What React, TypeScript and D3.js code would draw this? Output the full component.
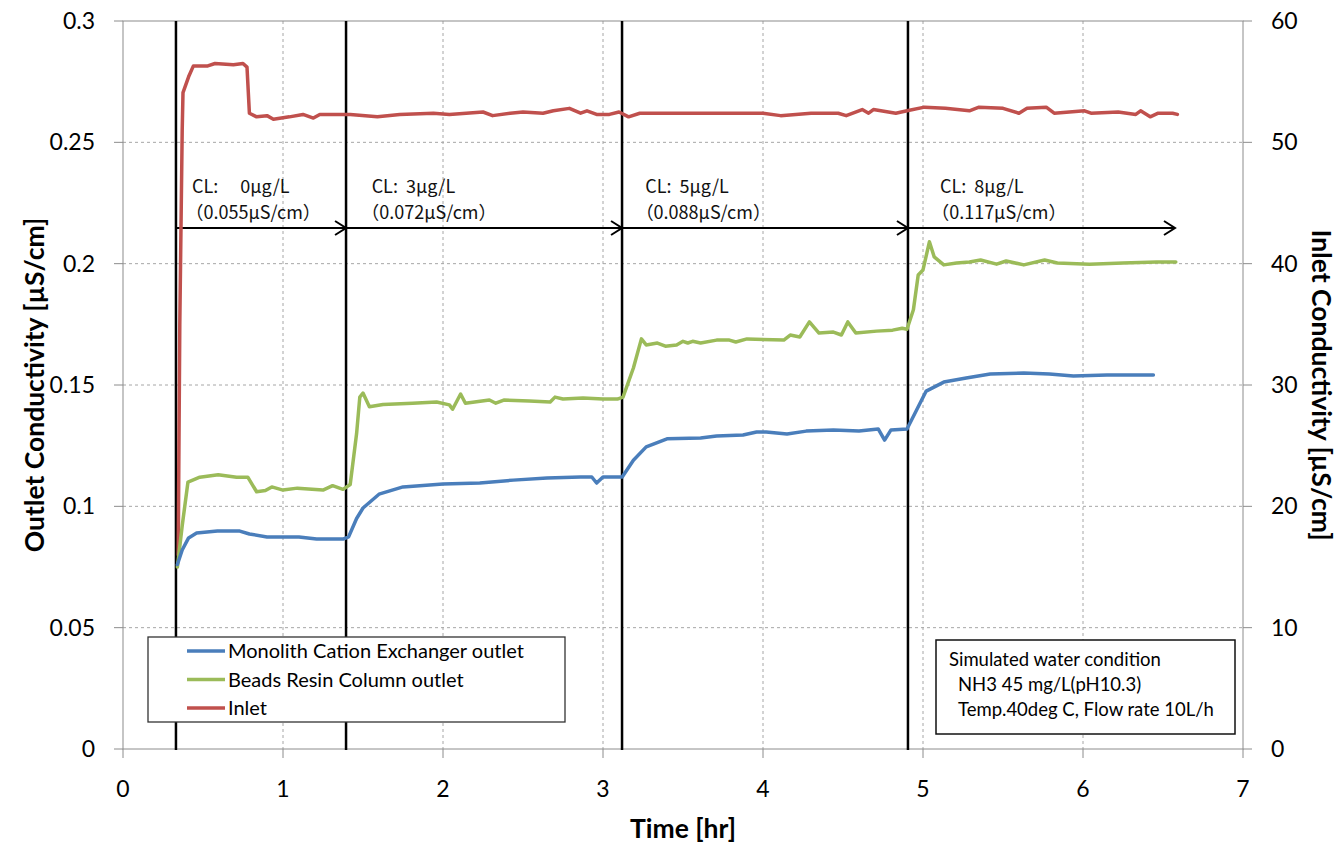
import React from "react";
import * as d3 from "d3";

// time [hr], outlet conductivity [uS/cm]
const monolithOutlet: [number, number][] = [
  [0.34, 0.076], [0.37, 0.082], [0.41, 0.087], [0.46, 0.089], [0.59, 0.0898], [0.73, 0.0898],
  [0.79, 0.0886], [0.9, 0.0874], [1.1, 0.0874], [1.21, 0.0865], [1.375, 0.0865], [1.41, 0.0874],
  [1.46, 0.095], [1.5, 0.0993], [1.6, 0.105], [1.75, 0.108], [2.0, 0.1092], [2.23, 0.1096],
  [2.44, 0.1108], [2.65, 0.1117], [2.86, 0.1121], [2.93, 0.1121], [2.96, 0.1096], [3.0, 0.1121],
  [3.12, 0.1121], [3.19, 0.119], [3.27, 0.1245], [3.4, 0.1278], [3.61, 0.1282], [3.71, 0.129],
  [3.875, 0.1294], [3.96, 0.1306], [4.02, 0.1306], [4.15, 0.1298], [4.27, 0.131], [4.44, 0.1315],
  [4.6, 0.131], [4.72, 0.1319], [4.76, 0.1273], [4.8, 0.1315], [4.9, 0.1319], [4.96, 0.1397],
  [5.02, 0.1475], [5.13, 0.1512], [5.27, 0.1529], [5.42, 0.1545], [5.63, 0.1549], [5.79, 0.1545],
  [5.94, 0.1537], [6.15, 0.1541], [6.44, 0.1541],
];

const beadsOutlet: [number, number][] = [
  [0.34, 0.075], [0.37, 0.092], [0.406, 0.11], [0.48, 0.112], [0.595, 0.113], [0.71, 0.112],
  [0.78, 0.112], [0.835, 0.106], [0.89, 0.1065], [0.93, 0.108], [1.0, 0.1067], [1.09, 0.1075],
  [1.25, 0.1067], [1.31, 0.1085], [1.375, 0.107], [1.42, 0.109], [1.46, 0.13], [1.48, 0.145],
  [1.5, 0.1467], [1.54, 0.141], [1.625, 0.142], [1.81, 0.1425], [1.96, 0.143], [2.04, 0.1418],
  [2.06, 0.14], [2.11, 0.1463], [2.14, 0.1425], [2.29, 0.1438], [2.33, 0.1425], [2.38, 0.1438],
  [2.54, 0.1434], [2.67, 0.143], [2.7, 0.145], [2.75, 0.1442], [2.875, 0.1446], [3.0, 0.1442],
  [3.09, 0.1442], [3.125, 0.145], [3.19, 0.157], [3.24, 0.169], [3.27, 0.1665], [3.34, 0.1673],
  [3.39, 0.166], [3.46, 0.1665], [3.5, 0.168], [3.53, 0.1673], [3.56, 0.168], [3.61, 0.1673],
  [3.71, 0.1685], [3.79, 0.1685], [3.83, 0.1677], [3.9, 0.169], [4.13, 0.1685], [4.17, 0.1706],
  [4.23, 0.1698], [4.29, 0.176], [4.35, 0.1714], [4.44, 0.1718], [4.49, 0.1706], [4.53, 0.176],
  [4.58, 0.1714], [4.71, 0.1722], [4.81, 0.1726], [4.87, 0.1734], [4.9, 0.173], [4.94, 0.181],
  [4.97, 0.1953], [5.0, 0.1974], [5.04, 0.209], [5.07, 0.2028], [5.13, 0.1995], [5.21, 0.2003],
  [5.29, 0.2007], [5.36, 0.2015], [5.46, 0.1998], [5.52, 0.2011], [5.63, 0.1995], [5.76, 0.2015],
  [5.84, 0.2003], [6.04, 0.1998], [6.25, 0.2003], [6.46, 0.2007], [6.58, 0.2007],
];

// time [hr], inlet conductivity [uS/cm] (right axis)
const inlet: [number, number][] = [
  [0.345, 16], [0.355, 35], [0.37, 51], [0.375, 54.1], [0.41, 55.4], [0.44, 56.3], [0.53, 56.3],
  [0.575, 56.5], [0.69, 56.4], [0.75, 56.5], [0.775, 56.2], [0.79, 52.4], [0.835, 52.1],
  [0.9, 52.2], [0.94, 51.9], [1.04, 52.1], [1.125, 52.3], [1.19, 52.0], [1.23, 52.3], [1.42, 52.3],
  [1.59, 52.1], [1.73, 52.3], [1.94, 52.4], [2.04, 52.3], [2.25, 52.5], [2.31, 52.2], [2.42, 52.4],
  [2.5, 52.5], [2.625, 52.4], [2.69, 52.6], [2.79, 52.8], [2.86, 52.4], [2.9, 52.6], [2.96, 52.3],
  [3.04, 52.3], [3.1, 52.5], [3.16, 52.1], [3.23, 52.4], [3.39, 52.4], [3.6, 52.4], [3.83, 52.4],
  [4.0, 52.4], [4.11, 52.2], [4.3, 52.4], [4.47, 52.4], [4.52, 52.2], [4.62, 52.7], [4.66, 52.4],
  [4.69, 52.7], [4.83, 52.4], [4.9, 52.6], [5.01, 52.9], [5.14, 52.8], [5.29, 52.6], [5.35, 52.9],
  [5.5, 52.8], [5.6, 52.4], [5.65, 52.8], [5.77, 52.9], [5.82, 52.4], [6.01, 52.6], [6.05, 52.4],
  [6.22, 52.5], [6.33, 52.3], [6.36, 52.6], [6.42, 52.1], [6.47, 52.4], [6.56, 52.4], [6.59, 52.3],
];

const xTicks = [0, 1, 2, 3, 4, 5, 6, 7];
const leftTicks = [0, 0.05, 0.1, 0.15, 0.2, 0.25, 0.3];
const rightTicks = [0, 10, 20, 30, 40, 50, 60];

// chloride step changes: start time of each step, and end of the last one
const stepTimes = [0.331, 1.394, 3.119, 4.906];
const stepEnd = 6.575;
const stepLabels = ["CL:　 0µg/L", "CL:  3µg/L", "CL:  5µg/L", "CL:  8µg/L"];
const stepSubLabels = ["（0.055µS/cm）", "（0.072µS/cm）", "（0.088µS/cm）", "（0.117µS/cm）"];
const stepLabelOffset = [0.1, 0.16, 0.145, 0.2];
const stepSubOffset = [0.06, 0.095, 0.085, 0.145];

const legendItems = [
  { name: "Monolith Cation Exchanger outlet", color: "#4a7ebb" },
  { name: "Beads Resin Column outlet", color: "#9bbb59" },
  { name: "Inlet", color: "#c0504d" },
];

const conditionLines = ["Simulated water condition", "NH3 45 mg/L(pH10.3)", "Temp.40deg C, Flow rate 10L/h"];

const W = 1339, H = 843;
const margin = { top: 21, right: 96, bottom: 94, left: 123 };
const FONT = "Lato, 'Open Sans', sans-serif";
const JFONT = "'Noto Sans CJK JP', sans-serif";

export default function App() {
  const x = d3.scaleLinear().domain([0, 7]).range([margin.left, W - margin.right]);
  const yL = d3.scaleLinear().domain([0, 0.3]).range([H - margin.bottom, margin.top]);
  const yR = d3.scaleLinear().domain([0, 60]).range([H - margin.bottom, margin.top]);
  const x0 = x.range()[0], x1 = x.range()[1];
  const y0 = yL.range()[0], y1 = yL.range()[1];

  const lineL = d3.line<[number, number]>().x(d => x(d[0])).y(d => yL(d[1]));
  const lineR = d3.line<[number, number]>().x(d => x(d[0])).y(d => yR(d[1]));

  const arrowY = yL(0.2147);
  const grid = "#a6a6a6";

  return (
    <svg width={W} height={H} style={{ position: "absolute", left: 0, top: 0, background: "#fff" }}>
      {/* gridlines */}
      {leftTicks.slice(1, -1).map(t => (
        <line key={"gy" + t} x1={x0} x2={x1} y1={yL(t)} y2={yL(t)} stroke={grid} strokeDasharray="3,3" />
      ))}
      {xTicks.slice(1, -1).map(t => (
        <line key={"gx" + t} x1={x(t)} x2={x(t)} y1={y1} y2={y0} stroke={grid} strokeDasharray="3,3" />
      ))}
      {/* frame */}
      <rect x={x0} y={y1} width={x1 - x0} height={y0 - y1} fill="none" stroke="#8c8c8c" strokeWidth={1} />
      {/* ticks */}
      {leftTicks.map(t => (
        <line key={"tl" + t} x1={x0 - 9} x2={x0} y1={yL(t)} y2={yL(t)} stroke="#8c8c8c" />
      ))}
      {rightTicks.map(t => (
        <line key={"tr" + t} x1={x1} x2={x1 + 9} y1={yR(t)} y2={yR(t)} stroke="#8c8c8c" />
      ))}
      {xTicks.map(t => (
        <line key={"tx" + t} x1={x(t)} x2={x(t)} y1={y0} y2={y0 + 9} stroke="#8c8c8c" />
      ))}
      {/* tick labels */}
      <g fontFamily={FONT} fontSize={23} fill="#000">
        {leftTicks.map(t => (
          <text key={"ll" + t} x={x0 - 28} y={yL(t)} dy="0.35em" textAnchor="end">{d3.format("")(t)}</text>
        ))}
        {rightTicks.map(t => (
          <text key={"rl" + t} x={x1 + 28} y={yR(t)} dy="0.35em">{t}</text>
        ))}
        {xTicks.map(t => (
          <text key={"xl" + t} x={x(t)} y={y0 + 48} textAnchor="middle">{t}</text>
        ))}
      </g>
      {/* axis titles */}
      <g fontFamily={FONT} fontSize={26.5} fontWeight="bold">
        <text x={(x0 + x1) / 2} y={838} textAnchor="middle">Time [hr]</text>
        <text transform={`translate(44,${(y0 + y1) / 2}) rotate(-90)`} textAnchor="middle">Outlet Conductivity [µS/cm]</text>
        <text transform={`translate(1312,${(y0 + y1) / 2}) rotate(90)`} textAnchor="middle">Inlet Conductivity [µS/cm]</text>
      </g>
      {/* step markers */}
      {stepTimes.map(t => (
        <line key={"v" + t} x1={x(t)} x2={x(t)} y1={y1} y2={y0 + 1} stroke="#000" strokeWidth={2.5} />
      ))}
      {stepTimes.map((t, i) => {
        const xe = i < stepTimes.length - 1 ? stepTimes[i + 1] : stepEnd;
        const xa = x(xe);
        return (
          <g key={"a" + t} stroke="#000" strokeWidth={2} fill="none">
            <line x1={x(t)} x2={xa} y1={arrowY} y2={arrowY} />
            <path d={`M${xa - 11},${arrowY - 7} L${xa},${arrowY} L${xa - 11},${arrowY + 7}`} />
          </g>
        );
      })}
      <g fontFamily={JFONT} fontSize={18} fill="#111">
        {stepTimes.map((t, i) => (
          <text key={"s" + t} x={x(t + stepLabelOffset[i])} y={yL(0.2291)} style={{ whiteSpace: "pre" }}>{stepLabels[i]}</text>
        ))}
        {stepTimes.map((t, i) => (
          <text key={"ss" + t} x={x(t + stepSubOffset[i])} y={yL(0.2186)}>{stepSubLabels[i]}</text>
        ))}
      </g>
      {/* series */}
      <g fill="none" strokeWidth={3.5} strokeLinejoin="round" strokeLinecap="round">
        <path d={lineR(inlet) || ""} stroke="#c0504d" />
        <path d={lineL(beadsOutlet) || ""} stroke="#9bbb59" />
        <path d={lineL(monolithOutlet) || ""} stroke="#4a7ebb" />
      </g>
      {/* legend */}
      <rect x={148} y={637} width={417} height={85} fill="#fff" stroke="#333" strokeWidth={1.3} />
      {legendItems.map((it, i) => (
        <g key={it.name}>
          <line x1={187} x2={225} y1={651 + i * 28.5} y2={651 + i * 28.5} stroke={it.color} strokeWidth={3.5} />
          <text x={228} y={651 + i * 28.5} dy="0.35em" fontFamily={FONT} fontSize={20}>{it.name}</text>
        </g>
      ))}
      {/* condition box */}
      <rect x={936} y={640} width={299} height={94} fill="#fff" stroke="#111" strokeWidth={1.5} />
      {conditionLines.map((s, i) => (
        <text key={s} x={i === 0 ? 949 : 958} y={666 + i * 25} fontFamily={FONT} fontSize={18.5}>{s}</text>
      ))}
    </svg>
  );
}
